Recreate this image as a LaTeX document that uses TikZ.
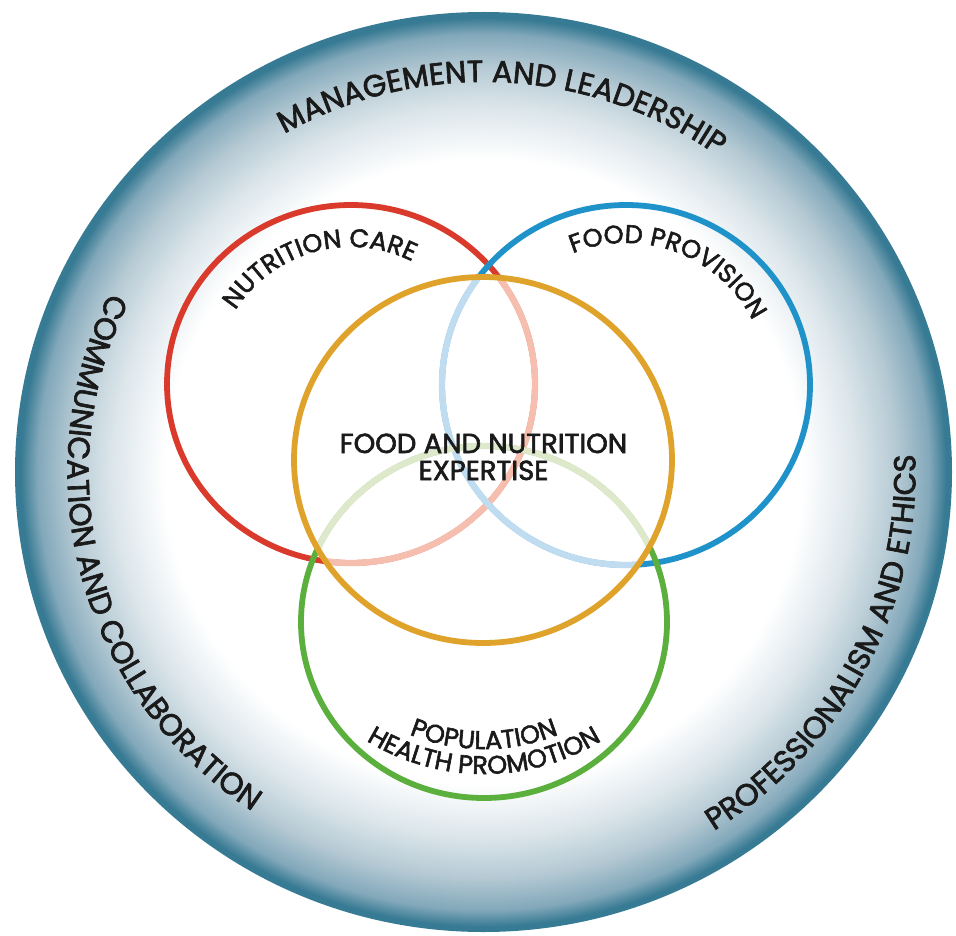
\documentclass[tikz,border=0pt]{standalone}
\usepackage{fontspec}
\setmainfont{Poppins}[FakeBold=2.2]
\usetikzlibrary{decorations.text}
\definecolor{ringA}{HTML}{DCE6EB}
\definecolor{ringB}{HTML}{B6CAD4}
\definecolor{ringC}{HTML}{82A8BA}
\definecolor{ringD}{HTML}{377A93}
\definecolor{cred}{HTML}{D93A2B}
\definecolor{cpink}{HTML}{F5BEAE}
\definecolor{cblue}{HTML}{1F93C9}
\definecolor{clblue}{HTML}{BFDCF0}
\definecolor{corange}{HTML}{DFA22A}
\definecolor{cgreen}{HTML}{5BAF3C}
\definecolor{cpgreen}{HTML}{DDE9CA}
\definecolor{txt}{HTML}{1A1A1A}
\pgfdeclareradialshading{ringshade}{\pgfpoint{0bp}{0bp}}{color(0bp)=(white); color(17bp)=(white); color(19.8bp)=(ringA); color(22bp)=(ringB); color(23.8bp)=(ringC); color(24.7bp)=(ringD); color(25bp)=(ringD); color(50bp)=(ringD)}
\newcommand\outerfont{\fontsize{30.5}{32}\selectfont\color{txt}}
\newcommand\innerfont{\fontsize{25.5}{27}\selectfont\color{txt}}
\begin{document}
\begin{tikzpicture}[x=1pt,y=1pt,
  ringline/.style={line width=5.8pt},
  paleline/.style={line width=6.3pt},
  centertext/.style={font=\fontsize{27.5}{29}\selectfont, text=txt, anchor=base, inner sep=0pt},
  outertext/.style={decorate, decoration={text along path, text align=center, text={|\outerfont|#1}}},
  innertext/.style={decorate, decoration={text along path, text align=center, text={|\innerfont|#1}}}]
\useasboundingbox (0,0) rectangle (956,-936);
\fill[white] (0,0) rectangle (956,-936);
% outer ring
\shade[shading=ringshade] (483.5,-472) ellipse[x radius=468.5, y radius=460];
% circles, full colour
\draw[ringline, cred] (351,-384) ellipse[x radius=184, y radius=179];
\draw[ringline, cblue] (626,-385) ellipse[x radius=184, y radius=180];
\draw[ringline, cgreen] (484,-622) ellipse[x radius=183, y radius=176];
% pale parts inside the centre circle
\begin{scope}
  \clip (483,-460) ellipse[x radius=189, y radius=183];
  \draw[paleline, cpink] (351,-384) ellipse[x radius=184, y radius=179];
  \draw[paleline, clblue] (626,-385) ellipse[x radius=184, y radius=180];
  \draw[paleline, cpgreen] (484,-622) ellipse[x radius=183, y radius=176];
\end{scope}
\draw[ringline, corange] (483,-460) ellipse[x radius=189, y radius=183];
% centre text
\node[centertext] (fan) at (483.5,-453) {FOOD AND NUTRITION};
\node[centertext] (exp) at (483.5,-480) {EXPERTISE};
% outer ring texts
\begin{scope}[shift={(483.5,-472)}]
  \path[outertext={MANAGEMENT AND LEADERSHIP}] (159:400 and 390) arc[start angle=159, end angle=15, x radius=400, y radius=390];
  \path[outertext={COMMUNICATION AND COLLABORATION}] (135:416 and 408) arc[start angle=135, end angle=255, x radius=416, y radius=408];
  \path[outertext={PROFESSIONALISM AND ETHICS}] (-86:432 and 424) arc[start angle=-86, end angle=31, x radius=432, y radius=424];
\end{scope}
% inner circle texts
\begin{scope}[shift={(351,-384)}]
  \path[innertext={NUTRITION CARE}] (175:137) arc[start angle=175, end angle=36, radius=137];
\end{scope}
\begin{scope}[shift={(626,-385)}]
  \path[innertext={FOOD PROVISION}] (140:142) arc[start angle=140, end angle=-1, radius=142];
\end{scope}
\begin{scope}[shift={(484,-550)}]
  \path[innertext={POPULATION}] (-150:199) arc[start angle=-150, end angle=-30, radius=199];
  \path[innertext={HEALTH PROMOTION}] (-150:224) arc[start angle=-150, end angle=-30, radius=224];
\end{scope}
\end{tikzpicture}
\end{document}
